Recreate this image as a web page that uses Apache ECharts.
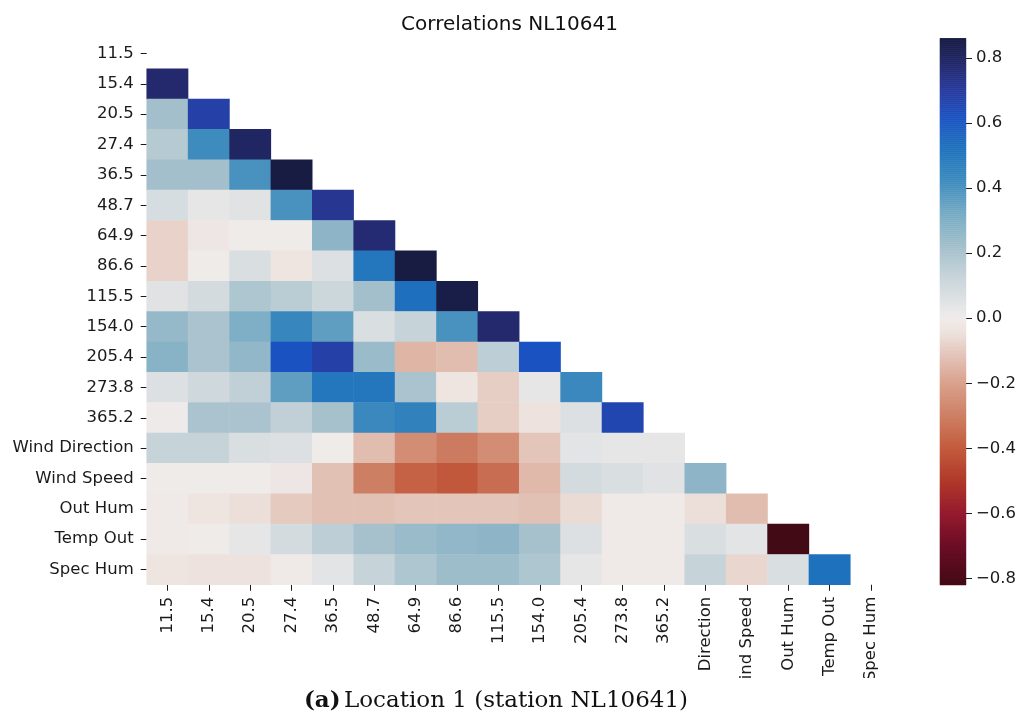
<!DOCTYPE html>
<html><head><meta charset="utf-8">
<script src="https://cdn.jsdelivr.net/npm/echarts@6/dist/echarts.min.js"></script>
<style>html,body{margin:0;padding:0;background:#fff}#c{width:1019px;height:721px}</style>
</head><body><div id="c"></div>
<script>
// ---- data ----
const variables = ['11.5','15.4','20.5','27.4','36.5','48.7','64.9','86.6','115.5','154.0','205.4','273.8','365.2','Wind Direction','Wind Speed','Out Hum','Temp Out','Spec Hum'];
const row_11_5 = [];
const row_15_4 = [0.78];
const row_20_5 = [0.22, 0.68];
const row_27_4 = [0.17, 0.42, 0.80];
const row_36_5 = [0.22, 0.22, 0.40, 0.86];
const row_48_7 = [0.08, 0.03, 0.05, 0.40, 0.72];
const row_64_9 = [-0.08, -0.02, 0.00, 0.00, 0.27, 0.77];
const row_86_6 = [-0.08, 0.00, 0.07, -0.03, 0.06, 0.50, 0.86];
const row_115_5 = [0.05, 0.09, 0.19, 0.16, 0.11, 0.22, 0.53, 0.85];
const row_154_0 = [0.25, 0.20, 0.30, 0.44, 0.36, 0.07, 0.13, 0.40, 0.78];
const row_205_4 = [0.28, 0.20, 0.26, 0.62, 0.68, 0.24, -0.15, -0.13, 0.15, 0.62];
const row_273_8 = [0.06, 0.10, 0.14, 0.36, 0.50, 0.50, 0.20, -0.03, -0.09, 0.03, 0.43];
const row_365_2 = [0.01, 0.20, 0.20, 0.14, 0.21, 0.43, 0.46, 0.16, -0.09, -0.04, 0.06, 0.66];
const row_wind_direction = [0.13, 0.13, 0.07, 0.06, 0.00, -0.13, -0.26, -0.31, -0.26, -0.11, 0.04, 0.03, 0.03];
const row_wind_speed = [0.00, 0.00, 0.00, -0.02, -0.12, -0.30, -0.38, -0.41, -0.35, -0.14, 0.09, 0.07, 0.05, 0.27];
const row_out_hum = [-0.01, -0.03, -0.05, -0.10, -0.12, -0.12, -0.11, -0.11, -0.11, -0.12, -0.06, -0.01, -0.01, -0.05, -0.13];
const row_temp_out = [-0.01, 0.00, 0.03, 0.09, 0.15, 0.21, 0.24, 0.26, 0.27, 0.21, 0.06, -0.01, -0.01, 0.07, 0.04, -0.82];
const row_spec_hum = [-0.03, -0.04, -0.04, -0.01, 0.04, 0.13, 0.19, 0.23, 0.23, 0.19, 0.03, -0.01, -0.01, 0.13, -0.07, 0.07, 0.52];
const colorbarTicks = [-0.8, -0.6, -0.4, -0.2, 0.0, 0.2, 0.4, 0.6, 0.8];

const matrixRows = [row_11_5,row_15_4,row_20_5,row_27_4,row_36_5,row_48_7,row_64_9,row_86_6,row_115_5,row_154_0,row_205_4,row_273_8,row_365_2,row_wind_direction,row_wind_speed,row_out_hum,row_temp_out,row_spec_hum];
const cells = [];
matrixRows.forEach((row, r) => row.forEach((v, c) => cells.push([c, r, v])));
const allVals = cells.map(d => d[2]);
const vmin = Math.min(...allVals), vmax = Math.max(...allVals);

// ---- colormap (diverging, centred on 0) ----
const cmapStops = [
  [-0.861,'#3c0912'],[-0.82,'#420a15'],[-0.7,'#6c0d25'],[-0.6,'#951a2e'],[-0.5,'#b0382a'],
  [-0.4,'#c35b3d'],[-0.3,'#cd7f64'],[-0.2,'#d9a18c'],[-0.12,'#e2c1b5'],[-0.05,'#ecdfda'],
  [0.0,'#f0ecea'],[0.04,'#e3e4e6'],[0.12,'#c9d5da'],[0.22,'#a3bfcb'],[0.32,'#76abc4'],
  [0.42,'#3d8bbd'],[0.52,'#1e72bd'],[0.62,'#1b52c2'],[0.70,'#283a9e'],[0.78,'#23296b'],[0.861,'#181c43']
];
function hex2rgb(h){return [parseInt(h.slice(1,3),16),parseInt(h.slice(3,5),16),parseInt(h.slice(5,7),16)];}
function cmap(v){
  if (v <= cmapStops[0][0]) return cmapStops[0][1];
  for (let i=1;i<cmapStops.length;i++){
    if (v <= cmapStops[i][0]){
      const a=cmapStops[i-1], b=cmapStops[i];
      const t=(v-a[0])/(b[0]-a[0]);
      const ca=hex2rgb(a[1]), cb=hex2rgb(b[1]);
      const c=ca.map((x,k)=>Math.round(x+(cb[k]-x)*t));
      return 'rgb('+c.join(',')+')';
    }
  }
  return cmapStops[cmapStops.length-1][1];
}
const N=200, rampColors=[];
for(let i=0;i<=N;i++){rampColors.push(cmap(vmin+(vmax-vmin)*i/N));}

// colour-bar bins (legend only), derived from the data range
const NB=273, binIdx=[], binCells=[];
for(let i=0;i<NB;i++){binIdx.push(String(i)); binCells.push([0,i,vmin+(vmax-vmin)*(i+0.5)/NB]);}

const FONT='DejaVu Sans', TXT='#1a1a1a', FS=16.5;
const chart = echarts.init(document.getElementById('c'), null, {renderer:'canvas'});
chart.setOption({
  animation:false,
  backgroundColor:'#fff',
  title:{text:'Correlations NL10641', left:'center', top:10, textStyle:{fontFamily:FONT,fontSize:20,fontWeight:'normal',color:'#111'}},
  grid:[
    {left:146.7, top:38.3, width:745, height:546.7, containLabel:false},
    {left:940, top:38.3, width:27, height:546.7, containLabel:false}
  ],
  xAxis:[
    {type:'category', gridIndex:0, data:variables, position:'bottom',
     axisLine:{show:false}, splitLine:{show:false},
     axisTick:{show:true, alignWithLabel:true, length:6, lineStyle:{color:TXT, width:1}},
     axisLabel:{rotate:90, interval:0, margin:12, fontFamily:FONT, fontSize:FS, color:TXT}},
    {type:'category', gridIndex:1, data:['cb'], show:false}
  ],
  yAxis:[
    {type:'category', gridIndex:0, data:variables, inverse:true,
     axisLine:{show:false}, splitLine:{show:false},
     axisTick:{show:true, alignWithLabel:true, length:6, lineStyle:{color:TXT, width:1}},
     axisLabel:{interval:0, margin:13, fontFamily:FONT, fontSize:FS, color:TXT}},
    {type:'category', gridIndex:1, data:binIdx, show:false},
    {type:'value', gridIndex:1, position:'right', min:vmin, max:vmax,
     axisLine:{show:false}, splitLine:{show:false},
     axisTick:{show:true, length:6, customValues:colorbarTicks, lineStyle:{color:TXT}},
     axisLabel:{customValues:colorbarTicks, margin:10, fontFamily:FONT, fontSize:FS, color:TXT,
       formatter:v=>{const s=Number(v).toFixed(1); return s.replace('-','\u2212');}}}
  ],
  visualMap:{
    type:'continuous', show:false, seriesIndex:[0,1], dimension:2, min:vmin, max:vmax,
    inRange:{color:rampColors}
  },
  series:[
    {type:'heatmap', xAxisIndex:0, yAxisIndex:0, data:cells, emphasis:{disabled:true}, itemStyle:{borderWidth:0}},
    {type:'heatmap', xAxisIndex:1, yAxisIndex:1, data:binCells, silent:true, emphasis:{disabled:true}},
    {type:'line', xAxisIndex:1, yAxisIndex:2, data:[], silent:true}
  ],
  graphic:[
    {type:'rect', z:100, shape:{x:0,y:678,width:1019,height:43}, style:{fill:'#fff'}},
    {type:'text', z:101, x:496, y:701, style:{
      text:'{b|(a)} {n|Location 1 (station NL10641)}', align:'center', verticalAlign:'middle',
      rich:{b:{fontFamily:'DejaVu Serif', fontWeight:'bold', fontSize:23, fill:'#111'},
            n:{fontFamily:'DejaVu Serif', fontSize:23, fill:'#111'}}}}
  ]
});
</script></body></html>
